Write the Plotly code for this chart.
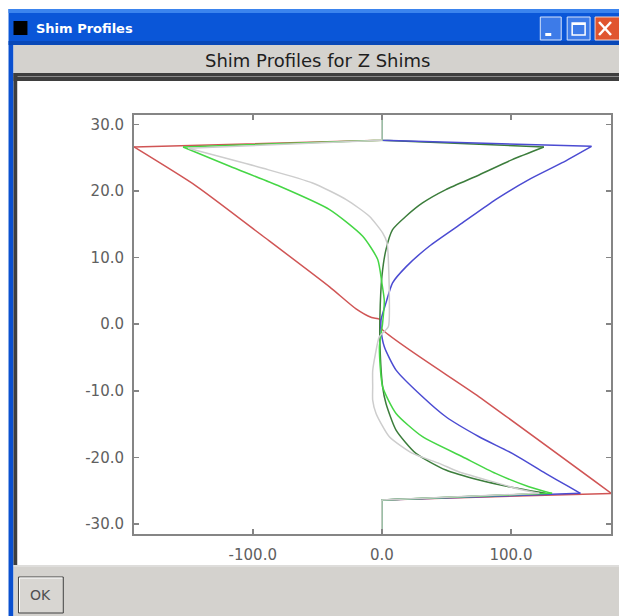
import plotly.graph_objects as go

# ---------------- data ----------------
x_tick_vals = [-100, 0, 100]
x_tick_text = ["-100.0", "0.0", "100.0"]
y_tick_vals = [-30, -20, -10, 0, 10, 20, 30]
y_tick_text = ["-30.0", "-20.0", "-10.0", "0.0", "10.0", "20.0", "30.0"]

# Z1 (red)
z1_pos = [32, 27.6, 26.6, 20.7, 13.2, 5.6, 2.3, 1.0, 0.7, -0.6, -10.9, -25.4, -26.4, -32]
z1_val = [0, 0, -192, -143.5, -92, -40.5, -20, -8, -1.4, -0.6, 75.3, 177.8, 0, 0]

# Z2 (dark green)
z2_pos = [32, 27.6, 26.6, 24.7, 22.4, 20.2, 18.2, 16.2, 14.2, 11.2, 7.1, 1.1, -2.9,
          -9.4, -11.9, -15.9, -19.4, -21.9, -23.4, -24.6, -25.4, -26.4, -32]
z2_val = [0, 0, 125.5, 101, 75.3, 49.6, 31.5, 18.7, 8.3, 3.2, 0, -1.5, -1.5,
          0.6, 3.2, 11, 26.4, 49.6, 75.3, 103.6, 126.8, 0, 0]

# Z3 (blue)
z3_pos = [32, 27.6, 26.7, 24.2, 21.7, 18.7, 15.2, 11.7, 8.6, 6.2, 3.2, 0.65, -0.9,
          -3.4, -6.9, -10.9, -13.9, -16.9, -19.4, -22.4, -24.4, -25.4, -26.4, -32]
z3_val = [0, 0, 162.4, 139.3, 113.9, 88.1, 62.4, 36.7, 18.7, 8.3, 3.2, -0.6, -0.6,
          1.9, 11, 31.5, 49.6, 75.3, 101, 126.8, 144.8, 153.8, 0, 0]

# Z4 (light green)
z4_pos = [32, 27.6, 26.6, 23.7, 20.7, 17.2, 13.2, 9.7, 6.2, 3.5, 0, -3.4, -9.4,
          -13.4, -16.9, -19.9, -22.4, -24.4, -25.4, -26.4, -32]
z4_val = [0, 0, -154, -117.8, -79.2, -40.5, -14.8, -3.2, 0, 1.9, 0.5, -1.9, 0.6,
          11, 31.5, 62.4, 88.1, 113.9, 131.9, 0, 0]

# Z5 (light gray)
z5_pos = [32, 27.6, 26.4, 23.4, 21.2, 18.7, 16.2, 13.7, 12.2, 3.6, -0.4, -1.9, -4.5,
          -7.0, -9.4, -11.4, -13.4, -16.9, -19.4, -20.9, -22.2, -23.6, -24.7, -25.4, -26.4, -32]
z5_val = [0, 0, -150, -92, -53.7, -27.6, -9.7, 0.6, 4.0, 5.8, 5.0, -2, -5,
          -7.1, -7.1, -7.1, -4.5, 5.8, 23.8, 44.4, 60, 85, 105, 122, 0, 0]

series_names = ["Z1", "Z2", "Z3", "Z4", "Z5"]
series_colors = ["#d05555", "#3c7d3c", "#4b4bd2", "#45d645", "#cdcdcd"]
series_vals = [z1_val, z2_val, z3_val, z4_val, z5_val]
series_pos = [z1_pos, z2_pos, z3_pos, z4_pos, z5_pos]

# ---------------- layout geometry ----------------
FW, FH = 619, 616
L, R, T, B = 134, 613, 115, 534   # plot area in screen pixels


def px(x):
    return (x - L) / (R - L)


def py(y):
    return (B - y) / (B - T)


fig = go.Figure()
for name, xs, zs, col in zip(series_names, series_vals, series_pos, series_colors):
    # connecting segments outside the coil region (straight)
    fig.add_trace(go.Scatter(x=xs[:3], y=zs[:3], mode="lines", name=name,
                             line=dict(color=col, width=1.5),
                             showlegend=False, hoverinfo="skip"))
    fig.add_trace(go.Scatter(x=xs[-3:], y=zs[-3:], mode="lines", name=name,
                             line=dict(color=col, width=1.5),
                             showlegend=False, hoverinfo="skip"))
    # the profile itself (smooth)
    fig.add_trace(go.Scatter(x=xs[2:-2], y=zs[2:-2], mode="lines", name=name,
                             line=dict(color=col, width=1.5, shape="spline", smoothing=0.6),
                             showlegend=False, hoverinfo="skip"))

shapes = []


def rect(x0, y0, x1, y1, fill, lc=None, lw=0, layer="below"):
    shapes.append(dict(type="rect", xref="paper", yref="paper",
                       x0=px(x0), x1=px(x1), y0=py(y1), y1=py(y0),
                       fillcolor=fill, layer=layer,
                       line=dict(width=lw, color=lc or fill)))


def seg(x0, y0, x1, y1, col, w=1, layer="below"):
    shapes.append(dict(type="line", xref="paper", yref="paper",
                       x0=px(x0), x1=px(x1), y0=py(y0), y1=py(y1),
                       layer=layer, line=dict(color=col, width=w)))


GRAY = "#d4d2ce"
# title bar
rect(8, 9, 640, 45, "#0a56d8")
rect(8, 9, 640, 13, "#3b84ee")
rect(8, 41, 640, 45, "#0848b8")
# left window border
rect(8, 45, 13, 640, "#0a50d0")
# header
rect(13, 45, 640, 73, GRAY)
# separator band
rect(13, 73, 640, 81, "#3e3e3e")
seg(13, 76.5, 640, 76.5, "#8a8a8a", 1)
# panel left dark border
rect(13, 73, 17, 565, "#3e3e3e")
# white panel
rect(17, 81, 640, 565, "#ffffff")
# bottom gray
rect(13, 565, 640, 640, GRAY)
seg(13, 566, 640, 566, "#e8e8e8", 1)
# OK button
rect(18, 577, 63, 613, "#d8d6d2", lc="#404040", lw=1)
seg(19, 578, 62, 578, "#ffffff", 1)
seg(19, 578, 19, 612, "#ffffff", 1)
# title icon
rect(13, 21, 27, 35, "#000000")
# window buttons
rect(542, 17, 563, 40, "#3d7be8", lc="#d8e4fa", lw=1)
rect(547, 33, 553, 36, "#ffffff")
rect(569, 17, 592, 40, "#3d7be8", lc="#d8e4fa", lw=1)
rect(574, 23, 587, 35, "rgba(0,0,0,0)", lc="#ffffff", lw=1.5)
rect(574, 23, 587, 25, "#ffffff")
rect(597, 17, 640, 40, "#e0552f", lc="#f4d2c4", lw=1)
seg(601, 22, 613, 35, "#ffffff", 2.5)
seg(613, 22, 601, 35, "#ffffff", 2.5)

annotations = [
    dict(text="<b>Shim Profiles</b>", xref="paper", yref="paper",
         x=px(34), y=py(29), xanchor="left", yanchor="middle", showarrow=False,
         font=dict(family="DejaVu Sans", size=13, color="#ffffff")),
    dict(text="Shim Profiles for Z Shims", xref="paper", yref="paper",
         x=px(318), y=py(61), xanchor="center", yanchor="middle", showarrow=False,
         font=dict(family="DejaVu Sans", size=18, color="#1e1e1e")),
    dict(text="OK", xref="paper", yref="paper",
         x=px(40.5), y=py(595), xanchor="center", yanchor="middle", showarrow=False,
         font=dict(family="DejaVu Sans", size=14, color="#505050")),
]

axis_common = dict(showgrid=False, zeroline=False, showline=True,
                   linecolor="#858585", linewidth=2, mirror="ticks",
                   ticks="inside", ticklen=5, tickwidth=1.5, tickcolor="#858585",
                   tickfont=dict(family="DejaVu Sans", size=15, color="#606060"),
                   fixedrange=True)

fig.update_layout(
    width=FW, height=FH, autosize=False,
    margin=dict(l=L, r=FW - R, t=T, b=FH - B, pad=0),
    paper_bgcolor="#ffffff", plot_bgcolor="#ffffff",
    shapes=shapes, annotations=annotations, showlegend=False,
    xaxis=dict(range=[-192, 177.5], tickvals=x_tick_vals, ticktext=x_tick_text,
               ticklabelstandoff=6, **axis_common),
    yaxis=dict(range=[-31.5, 31.4], tickvals=y_tick_vals, ticktext=y_tick_text,
               ticklabelstandoff=5, **axis_common),
)

fig.write_html("out.html",
               config={"displayModeBar": False, "staticPlot": True},
               post_script="document.body.style.margin='0';"
                           "document.body.style.overflow='hidden';")
